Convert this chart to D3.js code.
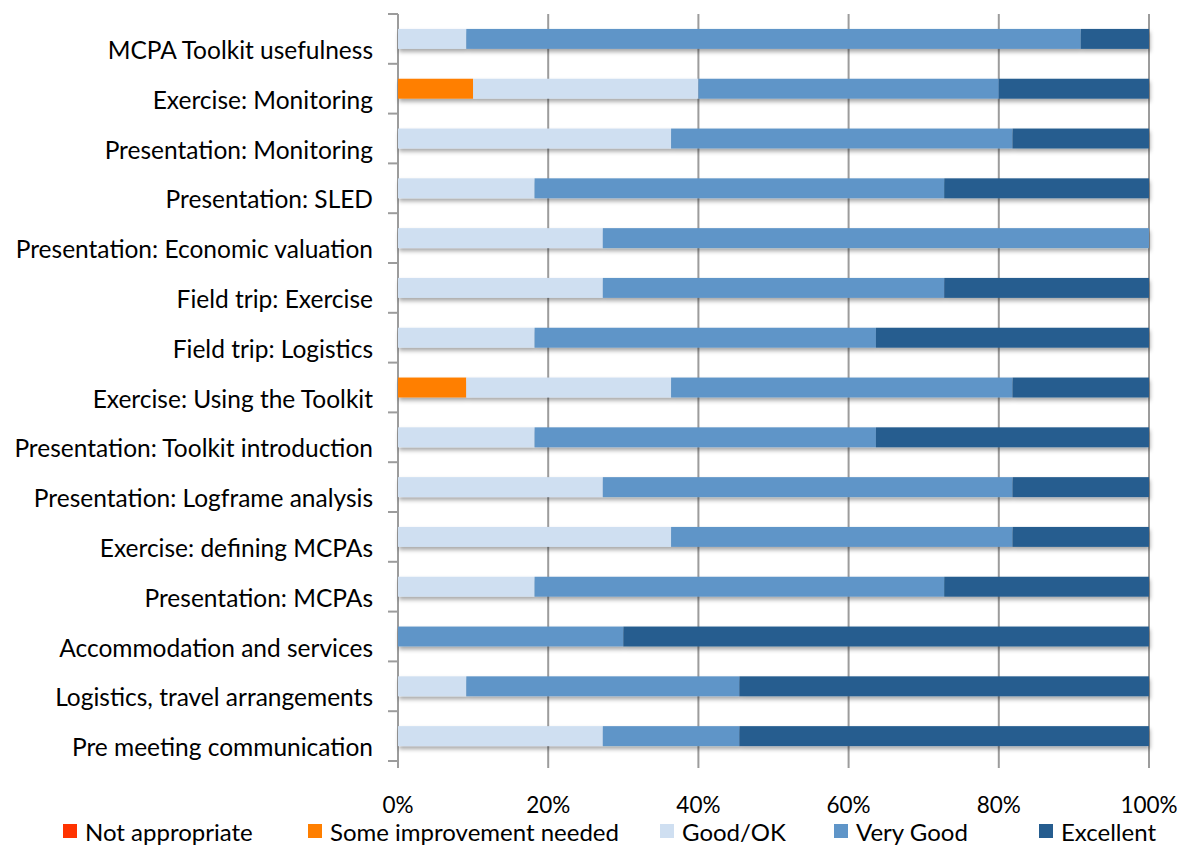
<!DOCTYPE html>
<html>
<head>
<meta charset="utf-8">
<script src="https://cdn.jsdelivr.net/npm/d3@7/dist/d3.min.js"></script>
<style>
  html, body { margin: 0; padding: 0; background: #fff; }
  text { font-family: Lato, "Open Sans", sans-serif; fill: #000; }
</style>
</head>
<body>
<svg id="chart" width="1182" height="846"></svg>
<script>
const categories = [
  "MCPA Toolkit usefulness",
  "Exercise: Monitoring",
  "Presentation: Monitoring",
  "Presentation: SLED",
  "Presentation: Economic valuation",
  "Field trip: Exercise ",
  "Field trip: Logistics",
  "Exercise: Using the Toolkit",
  "Presentation: Toolkit introduction",
  "Presentation: Logframe analysis",
  "Exercise: defining MCPAs",
  "Presentation: MCPAs",
  "Accommodation and services",
  "Logistics, travel arrangements",
  "Pre meeting communication"
];
const seriesNames = ["Not appropriate", "Some improvement needed", "Good/OK", "Very Good", "Excellent"];
const seriesColors = ["#ff3300", "#ff7f00", "#cfdff1", "#5f95c8", "#265d8f"];

const notAppropriate  = [0, 0, 0, 0, 0, 0, 0, 0, 0, 0, 0, 0, 0, 0, 0];
const someImprovement = [0, 10, 0, 0, 0, 0, 0, 9.09, 0, 0, 0, 0, 0, 0, 0];
const goodOK          = [9.09, 30, 36.36, 18.18, 27.27, 27.27, 18.18, 27.27, 18.18, 27.27, 36.36, 18.18, 0, 9.09, 27.27];
const veryGood        = [81.82, 40, 45.45, 54.55, 72.73, 45.45, 45.45, 45.45, 45.45, 54.55, 45.45, 54.55, 30, 36.36, 18.18];
const excellent       = [9.09, 20, 18.18, 27.27, 0, 27.27, 36.36, 18.18, 36.36, 18.18, 18.18, 27.27, 70, 54.55, 54.55];

const xTicks = [0, 0.2, 0.4, 0.6, 0.8, 1.0];

const seriesValues = [notAppropriate, someImprovement, goodOK, veryGood, excellent];
const rows = categories.map((c, i) => {
  const r = { cat: c };
  seriesNames.forEach((s, j) => r[s] = seriesValues[j][i]);
  return r;
});
const stacked = d3.stack().keys(seriesNames).offset(d3.stackOffsetExpand)(rows);

const svg = d3.select("#chart");
const margin = { left: 398, top: 14 };
const W = 751, H = 747;
const x = d3.scaleLinear().domain([0, 1]).range([0, W]);
const y = d3.scaleBand().domain(categories).range([0, H]).paddingInner(0.6).paddingOuter(0.3);
const yOuter = d3.scaleBand().domain(categories).range([0, H]);
const color = d3.scaleOrdinal().domain(seriesNames).range(seriesColors);

const defs = svg.append("defs");
const f = defs.append("filter").attr("id", "shadow").attr("x", "-5%").attr("y", "-50%").attr("width", "110%").attr("height", "220%");
f.append("feDropShadow").attr("dx", 1).attr("dy", 3).attr("stdDeviation", 2).attr("flood-color", "#000").attr("flood-opacity", 0.35);

const g = svg.append("g").attr("transform", `translate(${margin.left},${margin.top})`);

// gridlines + x ticks
g.append("g").selectAll("line").data(xTicks.slice(1)).join("line")
  .attr("x1", d => x(d)).attr("x2", d => x(d))
  .attr("y1", 0).attr("y2", H + 7)
  .attr("stroke", "#9c9c9c").attr("stroke-width", 2);

// y axis line
g.append("line").attr("x1", 0).attr("x2", 0).attr("y1", 0).attr("y2", H + 7)
  .attr("stroke", "#9c9c9c").attr("stroke-width", 2);

// y ticks at band boundaries
const bounds = categories.map(c => yOuter(c)).concat([H]);
g.append("g").selectAll("line").data(bounds).join("line")
  .attr("x1", -10).attr("x2", 0).attr("y1", d => d).attr("y2", d => d)
  .attr("stroke", "#9c9c9c").attr("stroke-width", 2);

// bars
const barG = g.append("g").attr("filter", "url(#shadow)");
barG.selectAll("g").data(stacked).join("g")
  .attr("fill", d => color(d.key))
  .selectAll("rect").data(d => d).join("rect")
  .attr("x", d => x(d[0]))
  .attr("width", d => Math.max(0, x(d[1]) - x(d[0])))
  .attr("y", d => y(d.data.cat))
  .attr("height", y.bandwidth());

// category labels
g.append("g").selectAll("text").data(categories).join("text")
  .attr("x", -25)
  .attr("y", c => yOuter(c) + yOuter.bandwidth() / 2 + 20)
  .attr("text-anchor", "end")
  .attr("font-size", 24.5)
  .text(c => c);

// x tick labels
g.append("g").selectAll("text").data(xTicks).join("text")
  .attr("x", d => x(d))
  .attr("y", H + 52)
  .attr("text-anchor", "middle")
  .attr("font-size", 22.5)
  .text(d => d3.format(".0%")(d));

// legend
const legendX = [63, 308, 660, 834, 1039];
const leg = svg.append("g").selectAll("g").data(seriesNames).join("g")
  .attr("transform", (d, i) => `translate(${legendX[i]},824)`);
leg.append("rect").attr("width", 14).attr("height", 14).attr("fill", d => color(d));
leg.append("text").attr("x", 22).attr("y", 17).attr("font-size", 24).text(d => d);
</script>
</body>
</html>
